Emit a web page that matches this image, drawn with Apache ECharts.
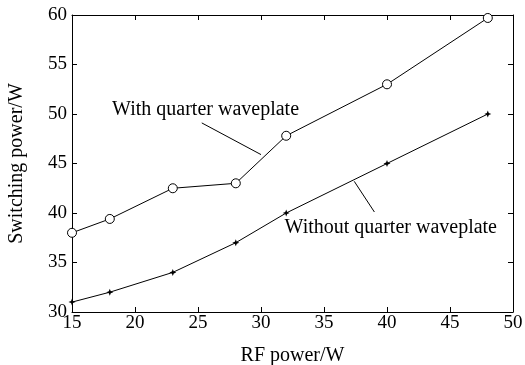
<!DOCTYPE html>
<html>
<head>
<meta charset="utf-8">
<script src="https://cdn.jsdelivr.net/npm/echarts@6/dist/echarts.min.js"></script>
<style>
    html, body {margin: 0; padding: 0; background: #fff;}
    #chart {width: 525px; height: 365px;}
</style>
</head>
<body>
<div id="chart"></div>
<script>
    // data
    const rfPower = [15, 18, 23, 28, 32, 40, 48];
    const withWaveplate = [38, 39.4, 42.5, 43, 47.8, 53, 59.7];
    const withoutWaveplate = [31, 32, 34, 37, 40, 45, 50];

    const xTicks = {min: 15, max: 50, interval: 5};
    const yTicks = {min: 30, max: 60, interval: 5};

    // annotation text + leader line, in data units
    const withNote = {text: 'With quarter waveplate', at: [25.6, 50.4], line: [[25.3, 49.1], [30.0, 45.9]]};
    const withoutNote = {text: 'Without quarter waveplate', at: [40.3, 38.5], line: [[37.4, 43.2], [39.0, 40.1]]};

    const font = '"Liberation Serif", "Times New Roman", serif';
    const black = '#000';

    let myChart = echarts.init(document.getElementById('chart'));

    const pair = (xs, ys) => xs.map((x, i) => [x, ys[i]]);

    const noteMarks = (note) => ({
        markLine: {
            silent: true,
            symbol: 'none',
            label: {show: false},
            lineStyle: {color: black, width: 1, type: 'solid'},
            data: [[{coord: note.line[0]}, {coord: note.line[1]}]]
        },
        markPoint: {
            silent: true,
            symbol: 'circle',
            symbolSize: 0,
            label: {
                show: true,
                position: 'inside',
                formatter: note.text,
                color: black,
                fontFamily: font,
                fontSize: 20
            },
            data: [{coord: note.at}]
        }
    });

    // shared axis look: box frame with inward ticks
    const frameAxis = {
        axisLine: {show: true, onZero: false, lineStyle: {color: black, width: 1}},
        axisTick: {show: true, inside: true, length: 5, lineStyle: {color: black}},
        splitLine: {show: false}
    };

    let option = {
        animation: false,
        backgroundColor: '#fff',
        // fixed plot box, don't let the lib shrink it to fit labels
        grid: {left: 72, top: 15, right: 12, bottom: 53, containLabel: false, outerBoundsMode: 'none'},
        xAxis: [
            Object.assign({
                type: 'value',
                position: 'bottom',
                min: xTicks.min, max: xTicks.max, interval: xTicks.interval,
                name: 'RF power/W',
                nameLocation: 'middle',
                nameGap: 34,
                nameTextStyle: {color: black, fontFamily: font, fontSize: 20},
                axisLabel: {color: black, fontFamily: font, fontSize: 19, margin: 2}
            }, frameAxis),
            Object.assign({
                type: 'value',
                position: 'top',
                min: xTicks.min, max: xTicks.max, interval: xTicks.interval,
                axisLabel: {show: false}
            }, frameAxis)
        ],
        yAxis: [
            Object.assign({
                type: 'value',
                position: 'left',
                min: yTicks.min, max: yTicks.max, interval: yTicks.interval,
                name: 'Switching power/W',
                nameLocation: 'middle',
                nameGap: 45,
                nameTextStyle: {color: black, fontFamily: font, fontSize: 20},
                axisLabel: {color: black, fontFamily: font, fontSize: 19, margin: 5}
            }, frameAxis),
            Object.assign({
                type: 'value',
                position: 'right',
                min: yTicks.min, max: yTicks.max, interval: yTicks.interval,
                axisLabel: {show: false}
            }, frameAxis)
        ],
        series: [
            Object.assign({
                name: 'With quarter waveplate',
                type: 'line',
                data: pair(rfPower, withWaveplate),
                symbol: 'circle',
                symbolSize: 9,
                showAllSymbol: true,
                itemStyle: {color: '#fff', borderColor: black, borderWidth: 1},
                lineStyle: {color: black, width: 1}
            }, noteMarks(withNote)),
            Object.assign({
                name: 'Without quarter waveplate',
                type: 'line',
                data: pair(rfPower, withoutWaveplate),
                symbol: 'path://M0,-1L0.28,-0.28L1,0L0.28,0.28L0,1L-0.28,0.28L-1,0L-0.28,-0.28Z',
                symbolSize: 7,
                showAllSymbol: true,
                itemStyle: {color: black},
                lineStyle: {color: black, width: 1}
            }, noteMarks(withoutNote))
        ]
    };

    myChart.setOption(option);
</script>
</body>
</html>
